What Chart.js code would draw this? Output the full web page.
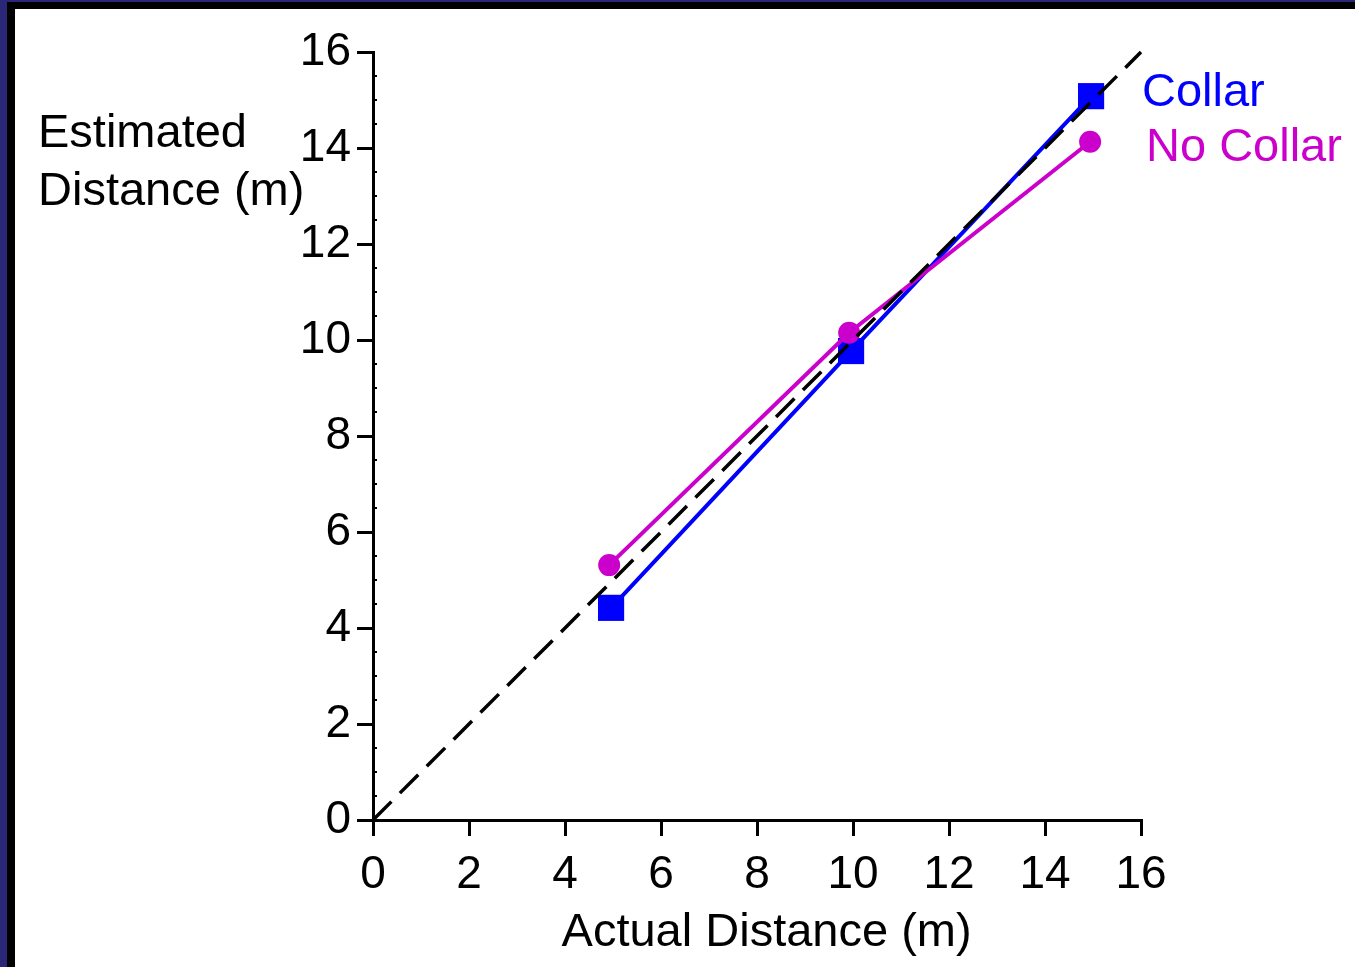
<!DOCTYPE html>
<html>
<head>
<meta charset="utf-8">
<script src="https://cdn.jsdelivr.net/npm/chart.js@4.4.1/dist/chart.umd.min.js"></script>
<style>
  html, body { margin: 0; padding: 0; background: #ffffff; overflow: hidden; }
  #wrap { position: absolute; left: 0; top: 0; width: 1355px; height: 967px; }
  canvas { position: absolute; left: 0; top: 0; }
  .b { position: absolute; }
</style>
</head>
<body>
<div id="wrap">
  <canvas id="c" width="1355" height="967"></canvas>
  <div class="b" style="left:0;top:0;width:7px;height:967px;background:#2a2678"></div>
  <div class="b" style="left:0;top:0;width:1355px;height:2px;background:#2a2678"></div>
  <div class="b" style="left:7px;top:2px;width:8px;height:965px;background:#000"></div>
  <div class="b" style="left:7px;top:2px;width:1348px;height:7px;background:#000"></div>
</div>
<script>
// ---- data ----
const actualCollar   = [4.96, 9.96, 14.96];
const estCollar      = [4.42, 9.77, 15.08];
const actualNoCollar = [4.92, 9.92, 14.94];
const estNoCollar    = [5.31, 10.15, 14.13];
const identityX      = [0, 16];
const identityY      = [0, 16];
const axisMin = 0, axisMax = 16, axisStep = 2, minorStep = 0.5;
const seriesNames = ['Collar', 'No Collar'];
const xTitle = 'Actual Distance (m)';
const yTitleLines = ['Estimated', 'Distance (m)'];

const FONT = "'Liberation Sans', Arial, Helvetica, sans-serif";
const BLUE = '#0000ff';
const MAGENTA = '#cc00cc';

const zip = (xs, ys) => xs.map((x, i) => ({ x: x, y: ys[i] }));

const textPlugin = {
  id: 'texts',
  afterDraw(chart) {
    const ctx = chart.ctx;
    const ys = chart.scales.y;
    const xs = chart.scales.x;
    ctx.save();
    // minor ticks on y axis
    ctx.strokeStyle = '#000';
    ctx.lineWidth = 2;
    const ax = xs.getPixelForValue(0);
    for (let v = axisMin + minorStep; v < axisMax; v += minorStep) {
      if (Math.abs(v / axisStep - Math.round(v / axisStep)) < 1e-6) continue;
      const py = Math.round(ys.getPixelForValue(v));
      ctx.beginPath();
      ctx.moveTo(ax - 1, py);
      ctx.lineTo(ax + 4, py);
      ctx.stroke();
    }
    ctx.font = '47px ' + FONT;
    ctx.textBaseline = 'alphabetic';
    ctx.fillStyle = '#000';
    ctx.textAlign = 'left';
    ctx.fillText(yTitleLines[0], 38, 147);
    ctx.fillText(yTitleLines[1], 38, 205);
    ctx.textAlign = 'center';
    ctx.fillText(xTitle, xs.getPixelForValue(8.2), 946);
    ctx.textAlign = 'left';
    ctx.fillStyle = BLUE;
    ctx.fillText(seriesNames[0], 1142, 106);
    ctx.fillStyle = MAGENTA;
    ctx.fillText(seriesNames[1], 1146, 161);
    ctx.restore();
  }
};

new Chart(document.getElementById('c'), {
  type: 'scatter',
  data: {
    datasets: [
      {
        label: 'identity',
        data: zip(identityX, identityY),
        showLine: true,
        borderColor: '#000',
        borderWidth: 3.5,
        borderDash: [26, 12],
        pointRadius: 0,
        order: 0,
        clip: false
      },
      {
        label: seriesNames[1],
        data: zip(actualNoCollar, estNoCollar),
        showLine: true,
        borderColor: MAGENTA,
        backgroundColor: MAGENTA,
        borderWidth: 4,
        pointStyle: 'circle',
        pointRadius: 11,
        pointBorderWidth: 0,
        pointBackgroundColor: MAGENTA,
        order: 1,
        clip: false
      },
      {
        label: seriesNames[0],
        data: zip(actualCollar, estCollar),
        showLine: true,
        borderColor: BLUE,
        backgroundColor: BLUE,
        borderWidth: 4,
        pointStyle: 'rect',
        pointRadius: 18.5,
        pointBorderWidth: 0,
        pointBackgroundColor: BLUE,
        order: 2,
        clip: false
      }
    ]
  },
  options: {
    responsive: false,
    animation: false,
    devicePixelRatio: 1,
    layout: { padding: { left: 0, right: 214, top: 52, bottom: 0 } },
    plugins: { legend: { display: false }, tooltip: { enabled: false } },
    scales: {
      x: {
        type: 'linear',
        min: axisMin, max: axisMax,
        afterFit(scale) { scale.height = 147; },
        ticks: { stepSize: axisStep, color: '#000', font: { family: FONT, size: 46 }, padding: 12, maxRotation: 0 },
        grid: { display: true, drawOnChartArea: false, drawTicks: true, tickLength: 16, color: '#000', lineWidth: 3 },
        border: { display: true, color: '#000', width: 3 }
      },
      y: {
        type: 'linear',
        min: axisMin, max: axisMax,
        afterFit(scale) { scale.width = 373; },
        ticks: { stepSize: axisStep, color: '#000', font: { family: FONT, size: 46 }, padding: 6 },
        grid: { display: true, drawOnChartArea: false, drawTicks: true, tickLength: 16, color: '#000', lineWidth: 3 },
        border: { display: true, color: '#000', width: 3 }
      }
    }
  },
  plugins: [textPlugin]
});
</script>
</body>
</html>
